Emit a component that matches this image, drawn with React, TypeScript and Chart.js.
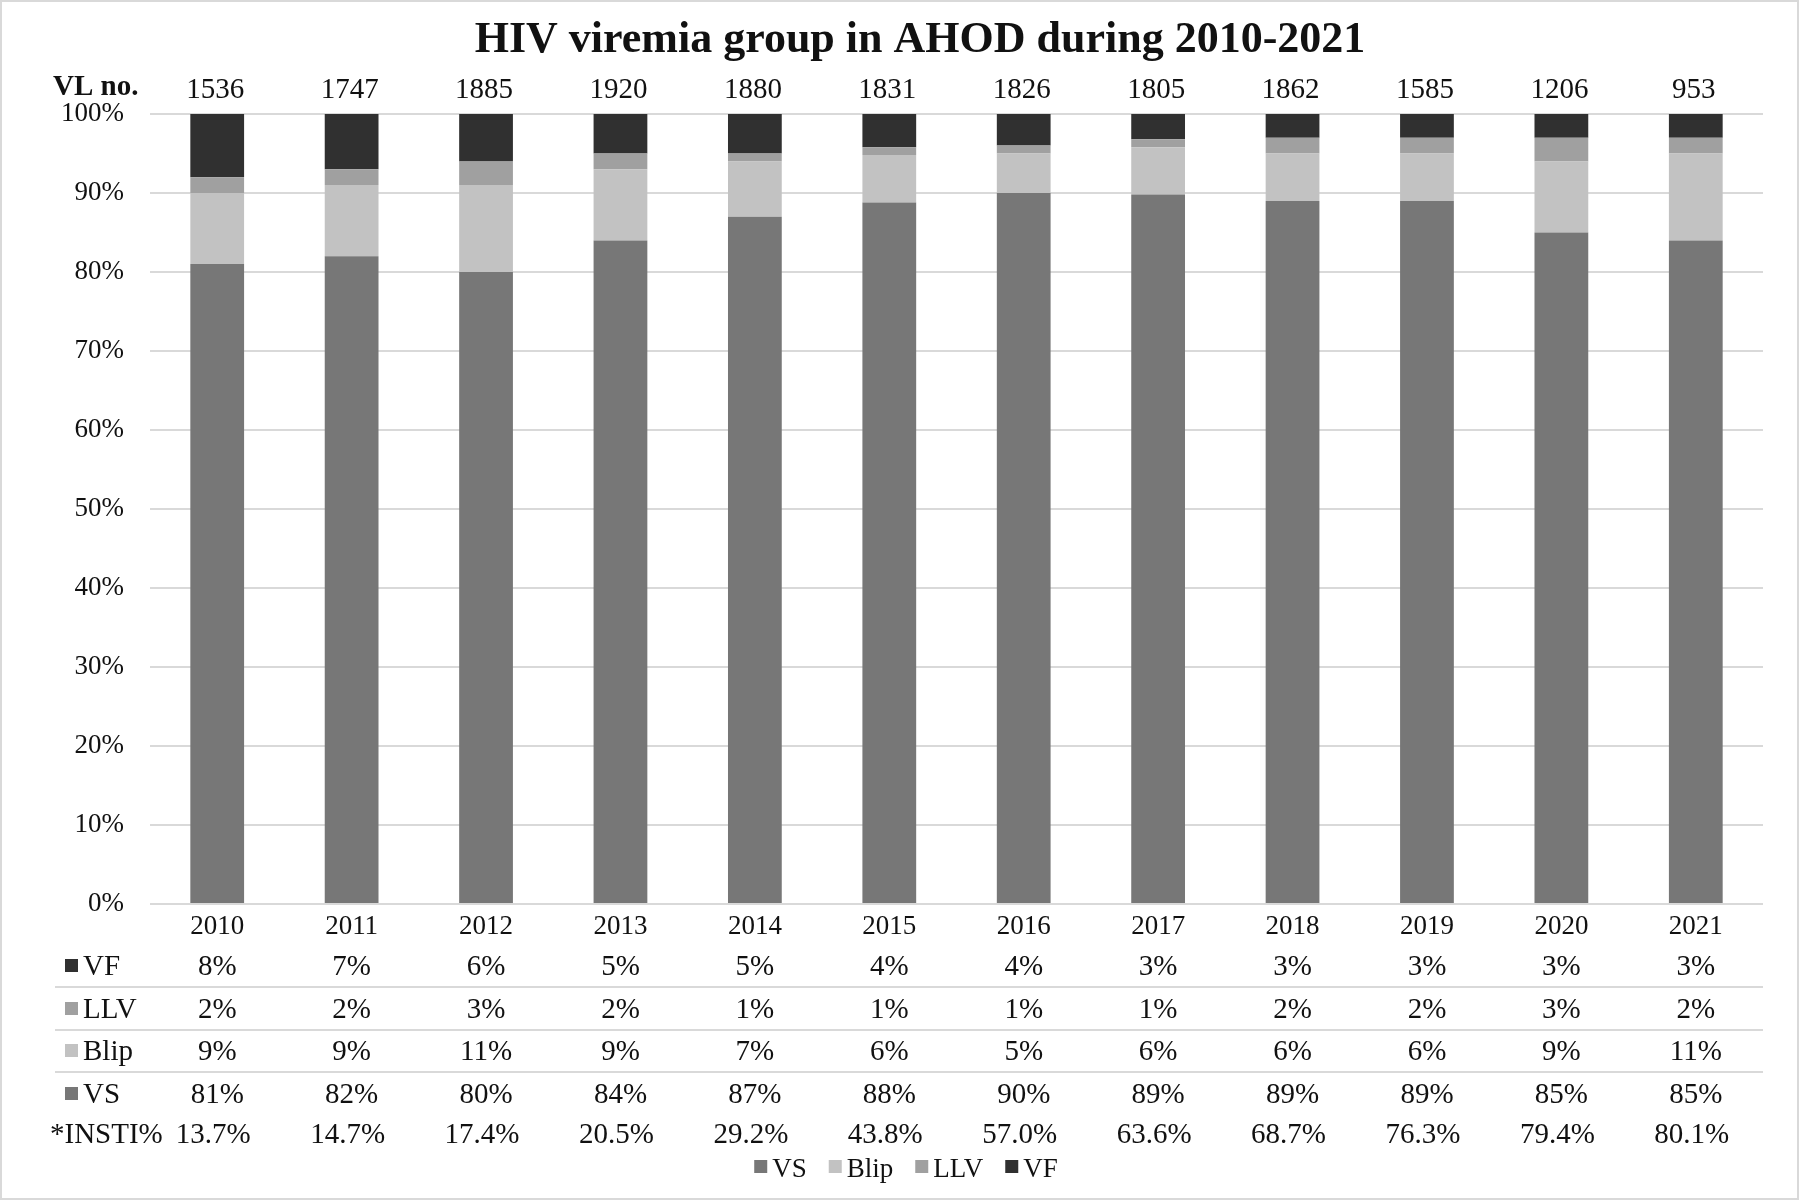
import React, { useEffect, useRef } from "react";
import { Chart, registerables } from "chart.js";

Chart.register(...registerables);

const years = ["2010", "2011", "2012", "2013", "2014", "2015", "2016", "2017", "2018", "2019", "2020", "2021"];
const vlCounts = [1536, 1747, 1885, 1920, 1880, 1831, 1826, 1805, 1862, 1585, 1206, 953];

// bar segment heights (% of VL tests)
const vsBar = [81, 82, 80, 84, 87, 88.8, 90, 89.8, 89, 89, 85, 84];
const blipBar = [9, 9, 11, 9, 7, 6, 5, 6, 6, 6, 9, 11];
const llvBar = [2, 2, 3, 2, 1, 1, 1, 1, 2, 2, 3, 2];
const vfBar = [8, 7, 6, 5, 5, 4.2, 4, 3.2, 3, 3, 3, 3];

// printed data table
const vfTable = [8, 7, 6, 5, 5, 4, 4, 3, 3, 3, 3, 3];
const llvTable = [2, 2, 3, 2, 1, 1, 1, 1, 2, 2, 3, 2];
const blipTable = [9, 9, 11, 9, 7, 6, 5, 6, 6, 6, 9, 11];
const vsTable = [81, 82, 80, 84, 87, 88, 90, 89, 89, 89, 85, 85];
const instiPct = ["13.7", "14.7", "17.4", "20.5", "29.2", "43.8", "57.0", "63.6", "68.7", "76.3", "79.4", "80.1"];

const yTicks = [0, 10, 20, 30, 40, 50, 60, 70, 80, 90, 100];

const COLORS = { VS: "#777777", Blip: "#c2c2c2", LLV: "#a0a0a0", VF: "#303030" };
const FONT = "'Liberation Serif', 'Times New Roman', serif";
const TEXT = "#111111";

export default function App() {
  const ref = useRef<HTMLCanvasElement | null>(null);

  useEffect(() => {
    document.body.style.margin = "0";
    const canvas = ref.current;
    if (!canvas) return;

    const overlay = {
      id: "overlay",
      beforeDraw(chart: any) {
        const ctx = chart.ctx;
        ctx.save();
        ctx.fillStyle = "#ffffff";
        ctx.fillRect(0, 0, chart.width, chart.height);
        ctx.restore();
      },
      afterDraw(chart: any) {
        const ctx = chart.ctx;
        const xs = chart.scales.x;
        const area = chart.chartArea;
        ctx.save();

        // outer frame
        ctx.strokeStyle = "#d9d9d9";
        ctx.lineWidth = 2;
        ctx.strokeRect(1, 1, 1797, 1198);

        // title
        ctx.fillStyle = TEXT;
        ctx.font = `bold 44px ${FONT}`;
        ctx.textAlign = "center";
        ctx.textBaseline = "alphabetic";
        ctx.fillText("HIV viremia group in AHOD during 2010-2021", 920, 52);

        // VL no.
        ctx.font = `bold 29px ${FONT}`;
        ctx.textAlign = "left";
        ctx.fillText("VL no.", 53, 95);
        ctx.font = `29px ${FONT}`;
        ctx.textAlign = "center";
        vlCounts.forEach((v, i) => {
          ctx.fillText(String(v), xs.getPixelForValue(i) - 2, 98);
        });

        // year labels
        ctx.font = `27px ${FONT}`;
        years.forEach((y, i) => {
          ctx.fillText(y, xs.getPixelForValue(i), 934);
        });

        // table separators
        ctx.strokeStyle = "#d9d9d9";
        ctx.lineWidth = 2;
        [987, 1030, 1072].forEach((yy) => {
          ctx.beginPath();
          ctx.moveTo(55, yy);
          ctx.lineTo(area.right, yy);
          ctx.stroke();
        });

        const rows = [
          { name: "VF", color: COLORS.VF, vals: vfTable.map((v) => v + "%"), base: 975 },
          { name: "LLV", color: COLORS.LLV, vals: llvTable.map((v) => v + "%"), base: 1018 },
          { name: "Blip", color: COLORS.Blip, vals: blipTable.map((v) => v + "%"), base: 1060 },
          { name: "VS", color: COLORS.VS, vals: vsTable.map((v) => v + "%"), base: 1103 },
        ];
        ctx.font = `29px ${FONT}`;
        rows.forEach((r) => {
          ctx.fillStyle = r.color;
          ctx.fillRect(65, r.base - 16, 13, 13);
          ctx.fillStyle = TEXT;
          ctx.textAlign = "left";
          ctx.fillText(r.name, 83, r.base);
          ctx.textAlign = "center";
          r.vals.forEach((t, i) => ctx.fillText(t, xs.getPixelForValue(i), r.base));
        });
        ctx.textAlign = "left";
        ctx.fillText("*INSTI%", 50, 1143);
        ctx.textAlign = "center";
        instiPct.forEach((t, i) => ctx.fillText(t + "%", xs.getPixelForValue(i) - 4, 1143));

        // legend
        ctx.font = `27px ${FONT}`;
        const items = chart.data.datasets.map((d: any) => ({ label: d.label, color: d.backgroundColor }));
        const box = 13, gap1 = 5, gap2 = 22;
        const widths = items.map((it: any) => box + gap1 + ctx.measureText(it.label).width);
        const total = widths.reduce((a: number, b: number) => a + b, 0) + gap2 * (items.length - 1);
        let lx = 906 - total / 2;
        ctx.textAlign = "left";
        items.forEach((it: any, i: number) => {
          ctx.fillStyle = it.color;
          ctx.fillRect(lx, 1160, box, box);
          ctx.fillStyle = TEXT;
          ctx.fillText(it.label, lx + box + gap1, 1177);
          lx += widths[i] + gap2;
        });

        ctx.restore();
      },
    };

    const chart = new Chart(canvas, {
      type: "bar",
      data: {
        labels: years,
        datasets: [
          { label: "VS", data: vsBar, backgroundColor: COLORS.VS },
          { label: "Blip", data: blipBar, backgroundColor: COLORS.Blip },
          { label: "LLV", data: llvBar, backgroundColor: COLORS.LLV },
          { label: "VF", data: vfBar, backgroundColor: COLORS.VF },
        ],
      },
      options: {
        responsive: false,
        animation: false,
        devicePixelRatio: 1,
        datasets: { bar: { barPercentage: 0.4, categoryPercentage: 1.0, borderWidth: 0 } },
        layout: { padding: { left: 0, right: 37, top: 114, bottom: 297 } },
        plugins: {
          legend: { display: false },
          title: { display: false },
          tooltip: { enabled: false },
        },
        scales: {
          x: { stacked: true, display: false },
          y: {
            stacked: true,
            min: 0,
            max: 100,
            afterFit: (s: any) => {
              s.width = 150;
            },
            afterBuildTicks: (s: any) => {
              s.ticks = yTicks.map((v) => ({ value: v }));
            },
            border: { display: false },
            grid: { color: "#d9d9d9", lineWidth: 2, drawTicks: false },
            ticks: {
              padding: 26,
              color: TEXT,
              font: { family: FONT, size: 27 },
              callback: (v: any) => v + "%",
            },
          },
        },
      },
      plugins: [overlay],
    });
    return () => chart.destroy();
  }, []);

  return <canvas ref={ref} width={1800} height={1201} style={{ display: "block", width: 1800, height: 1201 }} />;
}
